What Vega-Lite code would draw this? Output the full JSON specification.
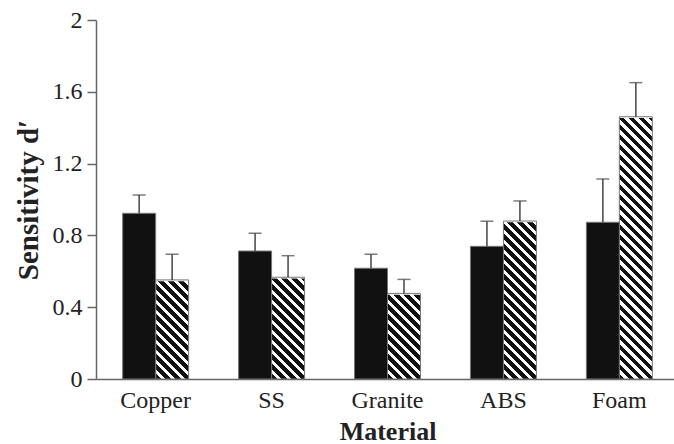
{
  "$schema": "https://vega.github.io/schema/vega-lite/v6.json",
  "autosize": "none",
  "padding": {"left": 96, "top": 20, "right": 0, "bottom": 65},
  "width": 583,
  "height": 359,
  "background": "white",
  "data": {
    "values": [
      {"Material": "Copper", "Group": "A", "d": 0.923, "upper": 1.025},
      {"Material": "Copper", "Group": "B", "d": 0.552, "upper": 0.695},
      {"Material": "SS", "Group": "A", "d": 0.713, "upper": 0.812},
      {"Material": "SS", "Group": "B", "d": 0.567, "upper": 0.687},
      {"Material": "Granite", "Group": "A", "d": 0.617, "upper": 0.695},
      {"Material": "Granite", "Group": "B", "d": 0.477, "upper": 0.555},
      {"Material": "ABS", "Group": "A", "d": 0.739, "upper": 0.879},
      {"Material": "ABS", "Group": "B", "d": 0.88, "upper": 0.992},
      {"Material": "Foam", "Group": "A", "d": 0.873, "upper": 1.114},
      {"Material": "Foam", "Group": "B", "d": 1.461, "upper": 1.651}
    ]
  },
  "encoding": {
    "x": {
      "field": "Material",
      "type": "nominal",
      "sort": ["Copper", "SS", "Granite", "ABS", "Foam"],
      "title": "Material",
      "scale": {"paddingInner": 0.431, "paddingOuter": 0.23},
      "axis": {"labelAngle": 0, "ticks": false}
    },
    "xOffset": {
      "field": "Group",
      "type": "nominal",
      "scale": {"domain": ["A", "B"], "paddingInner": 0, "paddingOuter": 0}
    }
  },
  "layer": [
    {
      "transform": [{"filter": "datum.Group === 'B'"}],
      "mark": {
        "type": "bar",
        "strokeWidth": 0,
        "fill": {
          "gradient": "linear",
          "x1": 0,
          "y1": 1,
          "x2": 0.10156,
          "y2": -0.10487,
          "stops": [
            {"offset": 0, "color": "#111"}, {"offset": 0.014, "color": "#111"}, {"offset": 0.014, "color": "#fff"}, {"offset": 0.025, "color": "#fff"},
            {"offset": 0.025, "color": "#111"}, {"offset": 0.039, "color": "#111"}, {"offset": 0.039, "color": "#fff"}, {"offset": 0.05, "color": "#fff"},
            {"offset": 0.05, "color": "#111"}, {"offset": 0.064, "color": "#111"}, {"offset": 0.064, "color": "#fff"}, {"offset": 0.075, "color": "#fff"},
            {"offset": 0.075, "color": "#111"}, {"offset": 0.089, "color": "#111"}, {"offset": 0.089, "color": "#fff"}, {"offset": 0.1, "color": "#fff"},
            {"offset": 0.1, "color": "#111"}, {"offset": 0.114, "color": "#111"}, {"offset": 0.114, "color": "#fff"}, {"offset": 0.125, "color": "#fff"},
            {"offset": 0.125, "color": "#111"}, {"offset": 0.139, "color": "#111"}, {"offset": 0.139, "color": "#fff"}, {"offset": 0.15, "color": "#fff"},
            {"offset": 0.15, "color": "#111"}, {"offset": 0.164, "color": "#111"}, {"offset": 0.164, "color": "#fff"}, {"offset": 0.175, "color": "#fff"},
            {"offset": 0.175, "color": "#111"}, {"offset": 0.189, "color": "#111"}, {"offset": 0.189, "color": "#fff"}, {"offset": 0.2, "color": "#fff"},
            {"offset": 0.2, "color": "#111"}, {"offset": 0.214, "color": "#111"}, {"offset": 0.214, "color": "#fff"}, {"offset": 0.225, "color": "#fff"},
            {"offset": 0.225, "color": "#111"}, {"offset": 0.239, "color": "#111"}, {"offset": 0.239, "color": "#fff"}, {"offset": 0.25, "color": "#fff"},
            {"offset": 0.25, "color": "#111"}, {"offset": 0.264, "color": "#111"}, {"offset": 0.264, "color": "#fff"}, {"offset": 0.275, "color": "#fff"},
            {"offset": 0.275, "color": "#111"}, {"offset": 0.289, "color": "#111"}, {"offset": 0.289, "color": "#fff"}, {"offset": 0.3, "color": "#fff"},
            {"offset": 0.3, "color": "#111"}, {"offset": 0.314, "color": "#111"}, {"offset": 0.314, "color": "#fff"}, {"offset": 0.325, "color": "#fff"},
            {"offset": 0.325, "color": "#111"}, {"offset": 0.339, "color": "#111"}, {"offset": 0.339, "color": "#fff"}, {"offset": 0.35, "color": "#fff"},
            {"offset": 0.35, "color": "#111"}, {"offset": 0.364, "color": "#111"}, {"offset": 0.364, "color": "#fff"}, {"offset": 0.375, "color": "#fff"},
            {"offset": 0.375, "color": "#111"}, {"offset": 0.389, "color": "#111"}, {"offset": 0.389, "color": "#fff"}, {"offset": 0.4, "color": "#fff"},
            {"offset": 0.4, "color": "#111"}, {"offset": 0.414, "color": "#111"}, {"offset": 0.414, "color": "#fff"}, {"offset": 0.425, "color": "#fff"},
            {"offset": 0.425, "color": "#111"}, {"offset": 0.439, "color": "#111"}, {"offset": 0.439, "color": "#fff"}, {"offset": 0.45, "color": "#fff"},
            {"offset": 0.45, "color": "#111"}, {"offset": 0.464, "color": "#111"}, {"offset": 0.464, "color": "#fff"}, {"offset": 0.475, "color": "#fff"},
            {"offset": 0.475, "color": "#111"}, {"offset": 0.489, "color": "#111"}, {"offset": 0.489, "color": "#fff"}, {"offset": 0.5, "color": "#fff"},
            {"offset": 0.5, "color": "#111"}, {"offset": 0.514, "color": "#111"}, {"offset": 0.514, "color": "#fff"}, {"offset": 0.525, "color": "#fff"},
            {"offset": 0.525, "color": "#111"}, {"offset": 0.539, "color": "#111"}, {"offset": 0.539, "color": "#fff"}, {"offset": 0.55, "color": "#fff"},
            {"offset": 0.55, "color": "#111"}, {"offset": 0.564, "color": "#111"}, {"offset": 0.564, "color": "#fff"}, {"offset": 0.575, "color": "#fff"},
            {"offset": 0.575, "color": "#111"}, {"offset": 0.589, "color": "#111"}, {"offset": 0.589, "color": "#fff"}, {"offset": 0.6, "color": "#fff"},
            {"offset": 0.6, "color": "#111"}, {"offset": 0.614, "color": "#111"}, {"offset": 0.614, "color": "#fff"}, {"offset": 0.625, "color": "#fff"},
            {"offset": 0.625, "color": "#111"}, {"offset": 0.639, "color": "#111"}, {"offset": 0.639, "color": "#fff"}, {"offset": 0.65, "color": "#fff"},
            {"offset": 0.65, "color": "#111"}, {"offset": 0.664, "color": "#111"}, {"offset": 0.664, "color": "#fff"}, {"offset": 0.675, "color": "#fff"},
            {"offset": 0.675, "color": "#111"}, {"offset": 0.689, "color": "#111"}, {"offset": 0.689, "color": "#fff"}, {"offset": 0.7, "color": "#fff"},
            {"offset": 0.7, "color": "#111"}, {"offset": 0.714, "color": "#111"}, {"offset": 0.714, "color": "#fff"}, {"offset": 0.725, "color": "#fff"},
            {"offset": 0.725, "color": "#111"}, {"offset": 0.739, "color": "#111"}, {"offset": 0.739, "color": "#fff"}, {"offset": 1, "color": "#fff"}
          ]
        }
      },
      "encoding": {
        "y": {
          "datum": 2,
          "type": "quantitative",
          "title": "Sensitivity d′",
          "scale": {"domain": [0, 2], "nice": false},
          "axis": {"values": [0, 0.4, 0.8, 1.2, 1.6, 2], "format": ".1~f", "grid": false}
        },
        "y2": {"datum": 0}
      }
    },
    {
      "transform": [{"filter": "datum.Group === 'B'"}],
      "mark": {"type": "bar", "fill": "white", "stroke": "white", "strokeWidth": 2.5},
      "encoding": {
        "y": {"field": "d", "type": "quantitative", "title": "Sensitivity d′"},
        "y2": {"datum": 2}
      }
    },
    {
      "transform": [{"filter": "datum.Group === 'B'"}],
      "mark": {"type": "bar", "fillOpacity": 0, "stroke": "#777", "strokeWidth": 1},
      "encoding": {
        "y": {"field": "d", "type": "quantitative", "title": "Sensitivity d′"}
      }
    },
    {
      "transform": [{"filter": "datum.Group === 'A'"}],
      "mark": {"type": "bar", "fill": "#111", "stroke": "#777", "strokeWidth": 1},
      "encoding": {
        "y": {"field": "d", "type": "quantitative", "title": "Sensitivity d′"}
      }
    },
    {
      "mark": {"type": "rule", "color": "#444", "strokeWidth": 1.5},
      "encoding": {
        "y": {"field": "d", "type": "quantitative", "title": "Sensitivity d′"},
        "y2": {"field": "upper"}
      }
    },
    {
      "mark": {"type": "tick", "orient": "horizontal", "size": 13, "thickness": 1.5, "color": "#444"},
      "encoding": {
        "y": {"field": "upper", "type": "quantitative", "title": "Sensitivity d′"}
      }
    }
  ],
  "config": {
    "view": {"stroke": null},
    "axis": {
      "domainColor": "#666",
      "domainWidth": 1.5,
      "tickColor": "#666",
      "tickWidth": 1.5,
      "labelFont": "Liberation Serif",
      "labelFontSize": 24,
      "labelColor": "#222",
      "titleFont": "Liberation Serif",
      "titleFontWeight": "bold",
      "titleColor": "#222"
    },
    "axisX": {"labelPadding": 9, "titleFontSize": 26, "titlePadding": 6},
    "axisY": {"tickSize": 9, "labelPadding": 5, "titleFontSize": 29, "titlePadding": 9}
  }
}
